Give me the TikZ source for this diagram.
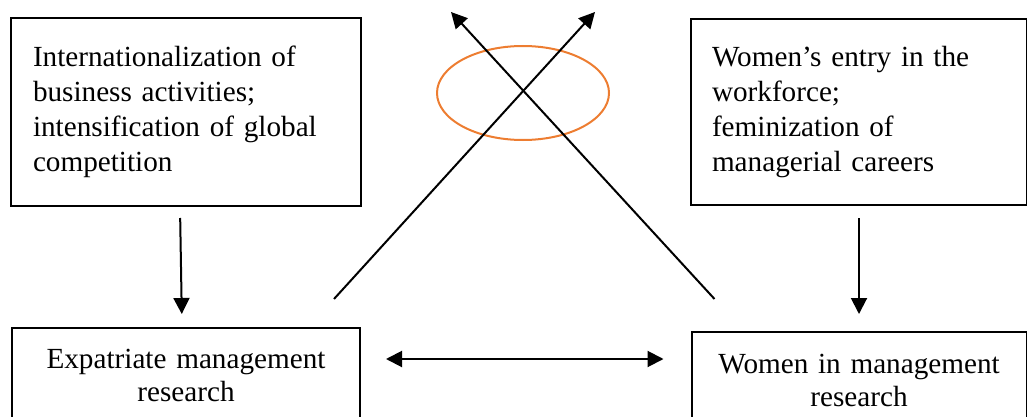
\documentclass[tikz,border=0pt]{standalone}
\usepackage{fontspec}
\setmainfont{Liberation Serif}
\usepackage{xcolor}
\usepackage{tikz}
\usetikzlibrary{shapes.geometric, arrows.meta, positioning, calc}
\definecolor{ringorange}{RGB}{237,125,49}

\begin{document}
\begin{tikzpicture}[
    box/.style={rectangle, draw, line width=1pt, align=center, inner sep=0pt, font=\fontsize{14.6}{16.5}\selectfont},
    topbox/.style={rectangle, draw, line width=1pt, align=left, inner xsep=11pt, inner ysep=0pt, font=\fontsize{14.6}{17.5}\selectfont},
    arrow/.style={-{Triangle[length=8pt, width=8pt]}, line width=1pt},
    biarrow/.style={{Triangle[length=8pt, width=8pt]}-{Triangle[length=8pt, width=8pt]}, line width=1pt},
    ring/.style={ellipse, draw=ringorange, line width=1pt, minimum width=86pt, minimum height=47pt}
]
    \useasboundingbox (0,0) rectangle (513.5pt,-208.5pt);

    \node[topbox, text width=153pt, minimum height=94pt] (intl) at (93pt,-56pt) {Internationalization of\\ business activities;\\ intensification of global\\ competition};
    \node[topbox, text width=147pt, inner xsep=10.5pt, minimum height=93pt, right=164pt of intl] (wentry) {Women’s entry in the\\ workforce;\\ feminization of\\ managerial careers};
    \node[box, text width=174pt, minimum height=47pt, below=60pt of intl] (expat) {Expatriate management\\ research};
    \node[box, text width=167.5pt, minimum height=48pt, below=62.5pt of wentry] (women) {Women in management\\ research};
    \node[ring] (ring) at (261.5pt,-46.5pt) {};

    \coordinate (tipR) at (297.5pt,-6pt);
    \coordinate (tipL) at (225.5pt,-6pt);

    \draw[arrow, shorten <=5.5pt, shorten >=6.5pt] ([xshift=-3pt]intl.south) -- ([xshift=-2pt]expat.north);
    \draw[arrow, shorten <=6pt, shorten >=8.5pt] (wentry.south) -- (women.north);
    \draw[arrow] ($(expat.north east)+(-13.5pt,14pt)$) -- (tipR);
    \draw[arrow] ($(women.north west)+(12pt,16pt)$) -- (tipL);
    \draw[biarrow] ($(expat.east)+(12.5pt,8pt)$) -- ($(expat.east -| women.west)+(-13.5pt,8pt)$);
\end{tikzpicture}
\end{document}
